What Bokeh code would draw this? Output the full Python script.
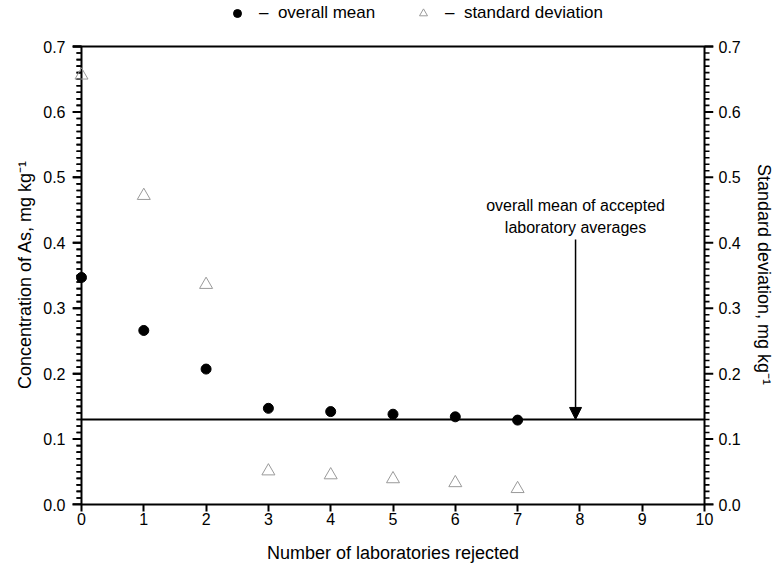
from bokeh.plotting import figure
from bokeh.layouts import column
from bokeh.models import (LinearAxis, Legend, LegendItem, Arrow, NormalHead,
                          FixedTicker, NumeralTickFormatter)
from bokeh.core.properties import value
from bokeh.embed import file_html
from bokeh.resources import INLINE

# ---- data ----
labs_rejected = [0, 1, 2, 3, 4, 5, 6, 7]
overall_mean = [0.347, 0.266, 0.207, 0.147, 0.142, 0.138, 0.134, 0.129]
std_dev = [0.656, 0.472, 0.336, 0.051, 0.045, 0.039, 0.033, 0.024]
accepted_mean = 0.130
arrow_x = 7.93
arrow_top = 0.405
annot_text = ["overall mean of accepted", "laboratory averages"]
annot_y = [0.457, 0.424]
x_ticks = list(range(0, 11))
y_ticks = [0.0, 0.1, 0.2, 0.3, 0.4, 0.5, 0.6, 0.7]
y_minor = [i / 100 for i in range(0, 71) if i % 10 != 0]
legend_labels = ["\u2013\u00a0 overall mean", "\u2013\u00a0 standard deviation"]

FONT = "Liberation Sans"
LEG_H = 30
W, H = 776, 567
X0, X1 = 0, 10
Y0, Y1 = 0.0, 0.7
# axis geometry in pixels (styling)
FR_L, FR_R, FR_T, FR_B = 81, 705, 46, 504
MAJ, MIN = 9, 5
px_x = (FR_R - FR_L) / (X1 - X0)
px_y = (FR_B - FR_T) / (Y1 - Y0)
dx_maj, dx_min = MAJ / px_x, MIN / px_x
pad_top = 2 / px_y

p = figure(width=W, height=H - LEG_H,
           x_range=(X0 - dx_maj, X1 + dx_maj), y_range=(Y0, Y1 + pad_top),
           output_backend="svg", toolbar_location=None,
           min_border_left=FR_L - MAJ, min_border_right=W - FR_R - MAJ,
           min_border_top=FR_T - LEG_H - 2, min_border_bottom=H - FR_B)
p.xgrid.visible = False
p.ygrid.visible = False
p.outline_line_color = None
p.background_fill_color = "white"
p.border_fill_color = "white"


def style_y(ax):
    ax.ticker = FixedTicker(ticks=y_ticks, minor_ticks=[])
    ax.formatter = NumeralTickFormatter(format="0.0")
    ax.major_tick_out = 0
    ax.major_tick_in = 0
    ax.minor_tick_out = 0
    ax.minor_tick_in = 0
    ax.axis_line_color = None
    ax.major_tick_line_color = None
    ax.minor_tick_line_color = None
    ax.major_label_text_font = FONT
    ax.major_label_text_font_size = "16px"
    ax.major_label_text_color = "black"
    ax.axis_label_text_font = FONT
    ax.axis_label_text_font_size = "18px"
    ax.axis_label_text_font_style = "normal"
    ax.axis_label_text_color = "black"


style_y(p.yaxis[0])
p.yaxis[0].axis_label = "Concentration of As, mg kg\u207b\u00b9"
p.yaxis[0].axis_label_standoff = 5
p.yaxis[0].major_label_standoff = 7

right = LinearAxis(axis_label="Standard deviation, mg kg\u207b\u00b9")
style_y(right)
right.major_label_standoff = 5
right.axis_label_standoff = 10
p.add_layout(right, "right")

xa = p.xaxis[0]
xa.ticker = FixedTicker(ticks=x_ticks, minor_ticks=[])
xa.major_tick_out = 7
xa.major_tick_in = 0
xa.axis_line_width = 2
xa.axis_line_color = "black"
xa.major_tick_line_width = 2
xa.major_tick_line_color = "black"
xa.major_label_text_font = FONT
xa.major_label_text_font_size = "16px"
xa.major_label_text_color = "black"
xa.axis_label = "Number of laboratories rejected"
xa.axis_label_text_font = FONT
xa.axis_label_text_font_size = "18px"
xa.axis_label_text_font_style = "normal"
xa.axis_label_text_color = "black"
xa.axis_label_standoff = 15
xa.major_label_standoff = 1

# frame lines (left, right, top)
p.segment(x0=[X0, X1, X0 - dx_maj], y0=[Y0, Y0, Y1],
          x1=[X0, X1, X1 + dx_maj], y1=[Y1, Y1, Y1],
          line_color="black", line_width=2)

# left tick marks as filled bars (2 px tall) and dash markers
p.rect(x=[X0 - dx_maj / 2] * len(y_ticks), y=y_ticks, width=dx_maj,
       height=2, height_units="screen", fill_color="black", line_color=None)
p.rect(x=[X0 - dx_min / 2] * len(y_minor), y=y_minor, width=dx_min,
       height=1.6, height_units="screen", fill_color="black", line_color=None)
p.scatter(x=[X0 - dx_maj / 2] * len(y_ticks), y=y_ticks, marker="dash",
          size=MAJ, line_color="black", line_width=2)
p.scatter(x=[X0 - dx_min / 2] * len(y_minor), y=y_minor, marker="dash",
          size=MIN, line_color="black", line_width=1.6)

# right tick marks
p.segment(x0=[X1] * len(y_ticks), y0=y_ticks,
          x1=[X1 + dx_maj] * len(y_ticks), y1=y_ticks, line_color="black", line_width=2)
p.segment(x0=[X1] * len(y_minor), y0=y_minor,
          x1=[X1 + dx_min] * len(y_minor), y1=y_minor, line_color="black", line_width=1.6)

# horizontal line: overall mean of accepted labs
p.segment(x0=[X0], y0=[accepted_mean], x1=[X1], y1=[accepted_mean],
          line_color="black", line_width=2)

p.scatter(labs_rejected, std_dev, marker="triangle", size=13,
          fill_color=None, line_color="#9a9a9a", line_width=1)
p.scatter(labs_rejected, overall_mean, marker="circle", size=10,
          fill_color="black", line_color="black")

# arrow and annotation
p.add_layout(Arrow(end=NormalHead(size=12, fill_color="black", line_color="black"),
                   x_start=arrow_x, y_start=arrow_top,
                   x_end=arrow_x, y_end=accepted_mean,
                   line_color="black", line_width=1.5))
p.text(x=[arrow_x] * 2, y=annot_y, text=annot_text, text_align="center",
       text_baseline="middle", text_font=value(FONT),
       text_font_size="16px", text_color="black")

# ---- legend strip above the chart ----
lg = figure(width=W, height=LEG_H, x_range=(0, 1), y_range=(0, 1),
            output_backend="svg", toolbar_location=None, min_border=0)
lg.axis.visible = False
lg.xgrid.visible = False
lg.ygrid.visible = False
lg.outline_line_color = None
lg.background_fill_color = "white"
lg.border_fill_color = "white"
g_mean = lg.scatter(x=[-5], y=[-5], marker="circle", size=10,
                    fill_color="black", line_color="black")
g_sd = lg.scatter(x=[-5], y=[-5], marker="triangle", size=11,
                  fill_color=None, line_color="#9a9a9a", line_width=1)


def make_legend(label, rend, x):
    return Legend(items=[LegendItem(label=label, renderers=[rend])],
                  location=(x, 7), orientation="horizontal",
                  border_line_color=None, background_fill_alpha=0,
                  padding=0, margin=0, label_text_font=FONT,
                  label_text_font_size="17px", label_text_color="black",
                  glyph_width=20, glyph_height=20, label_standoff=12)


lg.add_layout(make_legend(legend_labels[0], g_mean, 227 - (FR_L - MAJ)))
lg.add_layout(make_legend(legend_labels[1], g_sd, 413 - (FR_L - MAJ)))

layout = column(lg, p, spacing=0)
open("out.html", "w").write(file_html(layout, INLINE))
